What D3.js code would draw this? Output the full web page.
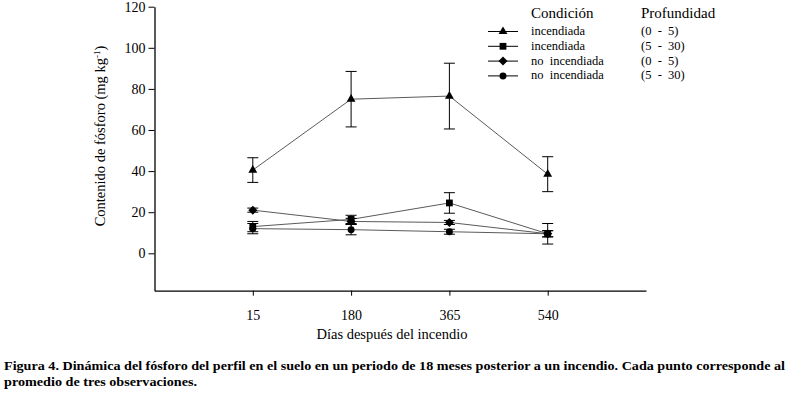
<!DOCTYPE html>
<html>
<head>
<meta charset="utf-8">
<script src="https://cdn.jsdelivr.net/npm/d3@7"></script>
<style>
  body { margin: 0; background: #fff; }
  svg text { font-family: "Liberation Serif", "DejaVu Serif", serif; }
</style>
</head>
<body>
<svg id="chart" width="787" height="396"></svg>
<script>
// categories on the x axis (days after the fire)
const days = ['15', '180', '365', '540'];
const yTicks = [0, 20, 40, 60, 80, 100, 120];

// mean phosphorus content and error per series
const burned05 = [40.5, 75, 76.5, 38.5];
const burned05Err = [6, 13.5, 16, 8.5];
const burned530 = [13, 16.5, 24.5, 9.5];
const burned530Err = [2.5, 2, 5, 5];
const unburned05 = [21, 15.5, 15, 9.5];
const unburned05Err = [1, 1.5, 1, 1.5];
const unburned530 = [12, 11.5, 10.5, 9.5];
const unburned530Err = [2.5, 2.5, 1.2, 1.5];

const conditions = ['incendiada', 'incendiada', 'no  incendiada', 'no  incendiada'];
const depths = ['(0  -  5)', '(5  -  30)', '(0  -  5)', '(5  -  30)'];

const series = [
    {values: burned05, err: burned05Err, symbol: d3.symbolTriangle, size: 34},
    {values: burned530, err: burned530Err, symbol: d3.symbolSquare, size: 46},
    {values: unburned05, err: unburned05Err, symbol: d3.symbolDiamond2, size: 52},
    {values: unburned530, err: unburned530Err, symbol: d3.symbolCircle, size: 38}
];

const svg = d3.select('#chart');

const x = d3.scaleLinear().domain([0, days.length + 1]).range([154.5, 646]);
const y = d3.scaleLinear().domain([-18.2, 120]).range([290.7, 6.7]);

// y axis
const yAxis = d3.axisLeft(y)
    .tickValues(yTicks)
    .tickSize(6)
    .tickPadding(3)
    .tickSizeOuter(0);
const gy = svg.append('g').attr('transform', 'translate(154.5,0)').call(yAxis);
gy.attr('font-family', null);
gy.select('.domain').attr('stroke', '#000').attr('stroke-width', 1.3);
gy.selectAll('.tick line').attr('stroke', '#000');
gy.selectAll('.tick text')
    .attr('font-size', 14)
    .attr('fill', '#000');

// x axis
const xAxis = d3.axisBottom(x)
    .tickValues(d3.range(1, days.length + 1))
    .tickFormat(i => days[i - 1])
    .tickSize(5)
    .tickPadding(14)
    .tickSizeOuter(0);
const gx = svg.append('g').attr('transform', 'translate(0,290.7)').call(xAxis);
gx.attr('font-family', null);
gx.select('.domain').attr('stroke', '#000').attr('stroke-width', 1.3);
gx.selectAll('.tick line').attr('stroke', '#000');
gx.selectAll('.tick text')
    .attr('font-size', 14)
    .attr('fill', '#000');

// axis titles
svg.append('text')
    .attr('x', 392)
    .attr('y', 339)
    .attr('text-anchor', 'middle')
    .attr('font-size', 14.5)
    .text('Días después del incendio');

const yTitle = svg.append('text')
    .attr('transform', 'translate(105,136) rotate(-90)')
    .attr('text-anchor', 'middle')
    .attr('font-size', 14.5);
yTitle.append('tspan').text('Contenido de fósforo (mg kg');
yTitle.append('tspan').attr('font-size', 9).attr('dy', -5).text('-1');
yTitle.append('tspan').attr('dy', 5).text(')');

const line = d3.line()
    .x((d, i) => x(i + 1))
    .y(d => y(d));

// lines first, then error bars and markers
for (const s of series) {
    svg.append('path')
        .attr('d', line(s.values))
        .attr('fill', 'none')
        .attr('stroke', '#5a5a5a')
        .attr('stroke-width', 1);
}

for (const s of series) {
    const g = svg.append('g');
    s.values.forEach((v, i) => {
        const cx = x(i + 1);
        const top = y(v + s.err[i]);
        const bot = y(v - s.err[i]);
        g.append('line').attr('x1', cx).attr('x2', cx).attr('y1', top).attr('y2', bot)
            .attr('stroke', '#000');
        g.append('line').attr('x1', cx - 5.5).attr('x2', cx + 5.5).attr('y1', top).attr('y2', top)
            .attr('stroke', '#000');
        g.append('line').attr('x1', cx - 5.5).attr('x2', cx + 5.5).attr('y1', bot).attr('y2', bot)
            .attr('stroke', '#000');
    });
    g.selectAll('path.mark')
        .data(s.values)
        .join('path')
        .attr('class', 'mark')
        .attr('transform', (d, i) => `translate(${x(i + 1)},${y(d)})`)
        .attr('d', d3.symbol().type(s.symbol).size(s.size))
        .attr('fill', '#000');
}

// legend
const legend = svg.append('g');
legend.append('text').attr('x', 531).attr('y', 18).attr('font-size', 15).text('Condición');
legend.append('text').attr('x', 641).attr('y', 18).attr('font-size', 15).text('Profundidad');

series.forEach((s, i) => {
    const by = 35 + i * 14.8;
    legend.append('line')
        .attr('x1', 488).attr('x2', 518)
        .attr('y1', by - 3.5).attr('y2', by - 3.5)
        .attr('stroke', '#000');
    legend.append('path')
        .attr('transform', `translate(503,${by - 3.5})`)
        .attr('d', d3.symbol().type(s.symbol).size(s.size))
        .attr('fill', '#000');
    legend.append('text').attr('x', 531).attr('y', by)
        .attr('font-size', 12.5).style('white-space', 'pre').text(conditions[i]);
    legend.append('text').attr('x', 641).attr('y', by)
        .attr('font-size', 12.5).style('white-space', 'pre').text(depths[i]);
});

// caption
const caption = [
    'Figura 4. Dinámica del fósforo del perfil en el suelo en un periodo de 18 meses posterior a un incendio. Cada punto corresponde al',
    'promedio de tres observaciones.'
];
svg.append('text')
    .attr('x', 4).attr('y', 370)
    .attr('font-size', 13).attr('font-weight', 'bold')
    .attr('textLength', 781).attr('lengthAdjust', 'spacingAndGlyphs')
    .text(caption[0]);
svg.append('text')
    .attr('x', 4).attr('y', 386)
    .attr('font-size', 13).attr('font-weight', 'bold')
    .attr('textLength', 193).attr('lengthAdjust', 'spacingAndGlyphs')
    .text(caption[1]);
</script>
</body>
</html>
